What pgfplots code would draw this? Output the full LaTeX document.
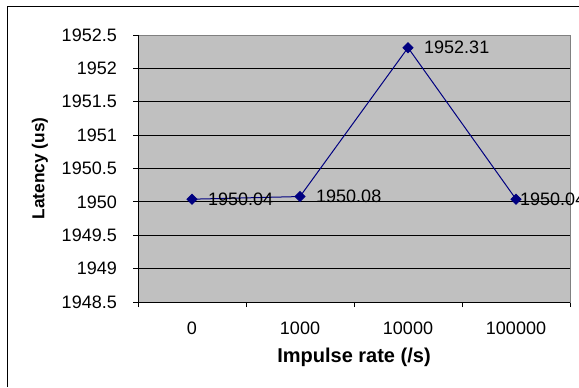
\documentclass[border=0pt]{standalone}
\usepackage{pgfplots}
\pgfplotsset{compat=1.18}
\usepackage{fontspec}
\setmainfont{Liberation Sans}
\definecolor{plotgray}{HTML}{C0C0C0}
\definecolor{framegray}{HTML}{808080}
\definecolor{navyline}{HTML}{000080}
\begin{document}
\begin{tikzpicture}[x=1bp,y=1bp]
\useasboundingbox (0,0) rectangle (579,387);
\draw[black, line width=1bp] (7,0) -- (7,380) -- (580,380);
\begin{axis}[
  at={(138bp,85bp)}, anchor=south west,
  scale only axis, width=432bp, height=267bp,
  xmin=-0.5, xmax=3.5, ymin=1948.5, ymax=1952.5,
  clip=false,
  axis background/.style={fill=plotgray},
  axis line style={draw=framegray, line width=0.8bp},
  ytick={1948.5,1949,...,1952.5},
  ymajorgrids=true,
  grid style={black, line width=0.8bp},
  tick align=outside,
  major tick length=5bp,
  tick style={black, line width=0.8bp},
  xtick={-0.5,0.5,1.5,2.5,3.5},
  xticklabels={},
  extra x ticks={0,1,2,3},
  extra x tick labels={0,1000,10000,100000},
  extra x tick style={major tick length=0pt, xmajorgrids=false,
     xticklabel style={anchor=north, inner sep=0pt, yshift=-20bp, font=\fontsize{18bp}{21bp}\selectfont}},
  ytick pos=left, xtick pos=bottom,
  /pgf/number format/.cd, assume math mode=true, set thousands separator={}, fixed, precision=1,
  /pgfplots/.cd,
  yticklabel style={anchor=east, inner sep=0pt, xshift=-16bp, font=\fontsize{18bp}{21bp}\selectfont},
  xlabel={Impulse rate (/s)},
  ylabel={Latency (us)},
  xlabel style={at={(axis description cs:0.5,0)}, anchor=north, inner sep=0pt, yshift=-46bp, font=\fontsize{20bp}{23bp}\selectfont\bfseries},
  ylabel style={at={(axis description cs:-0.2269,0.5)}, anchor=center, inner sep=0pt, font=\fontsize{17.3bp}{20bp}\selectfont\bfseries},
  point meta=explicit symbolic,
  every node near coord/.append style={anchor=west, inner sep=0pt, yshift=0bp, black, font=\fontsize{18bp}{21bp}\selectfont},
]
\addplot[navyline, line width=1bp, mark=square*, mark size=3.5bp, mark options={rotate=45, fill=navyline, draw=navyline}]
  coordinates {(0,1950.04) (1,1950.08) (2,1952.31) (3,1950.04)};
\addplot[draw=none, nodes near coords, every node near coord/.append style={xshift=16bp}]
  coordinates {(0,1950.04) [1950.04] (1,1950.08) [1950.08] (2,1952.31) [1952.31]};
\addplot[draw=none, nodes near coords, every node near coord/.append style={xshift=4bp}]
  coordinates {(3,1950.04) [1950.04]};
\draw[black, line width=0.8bp] (rel axis cs:0,1) -- (rel axis cs:0,0) -- (rel axis cs:1,0);
\end{axis}
\end{tikzpicture}
\end{document}
